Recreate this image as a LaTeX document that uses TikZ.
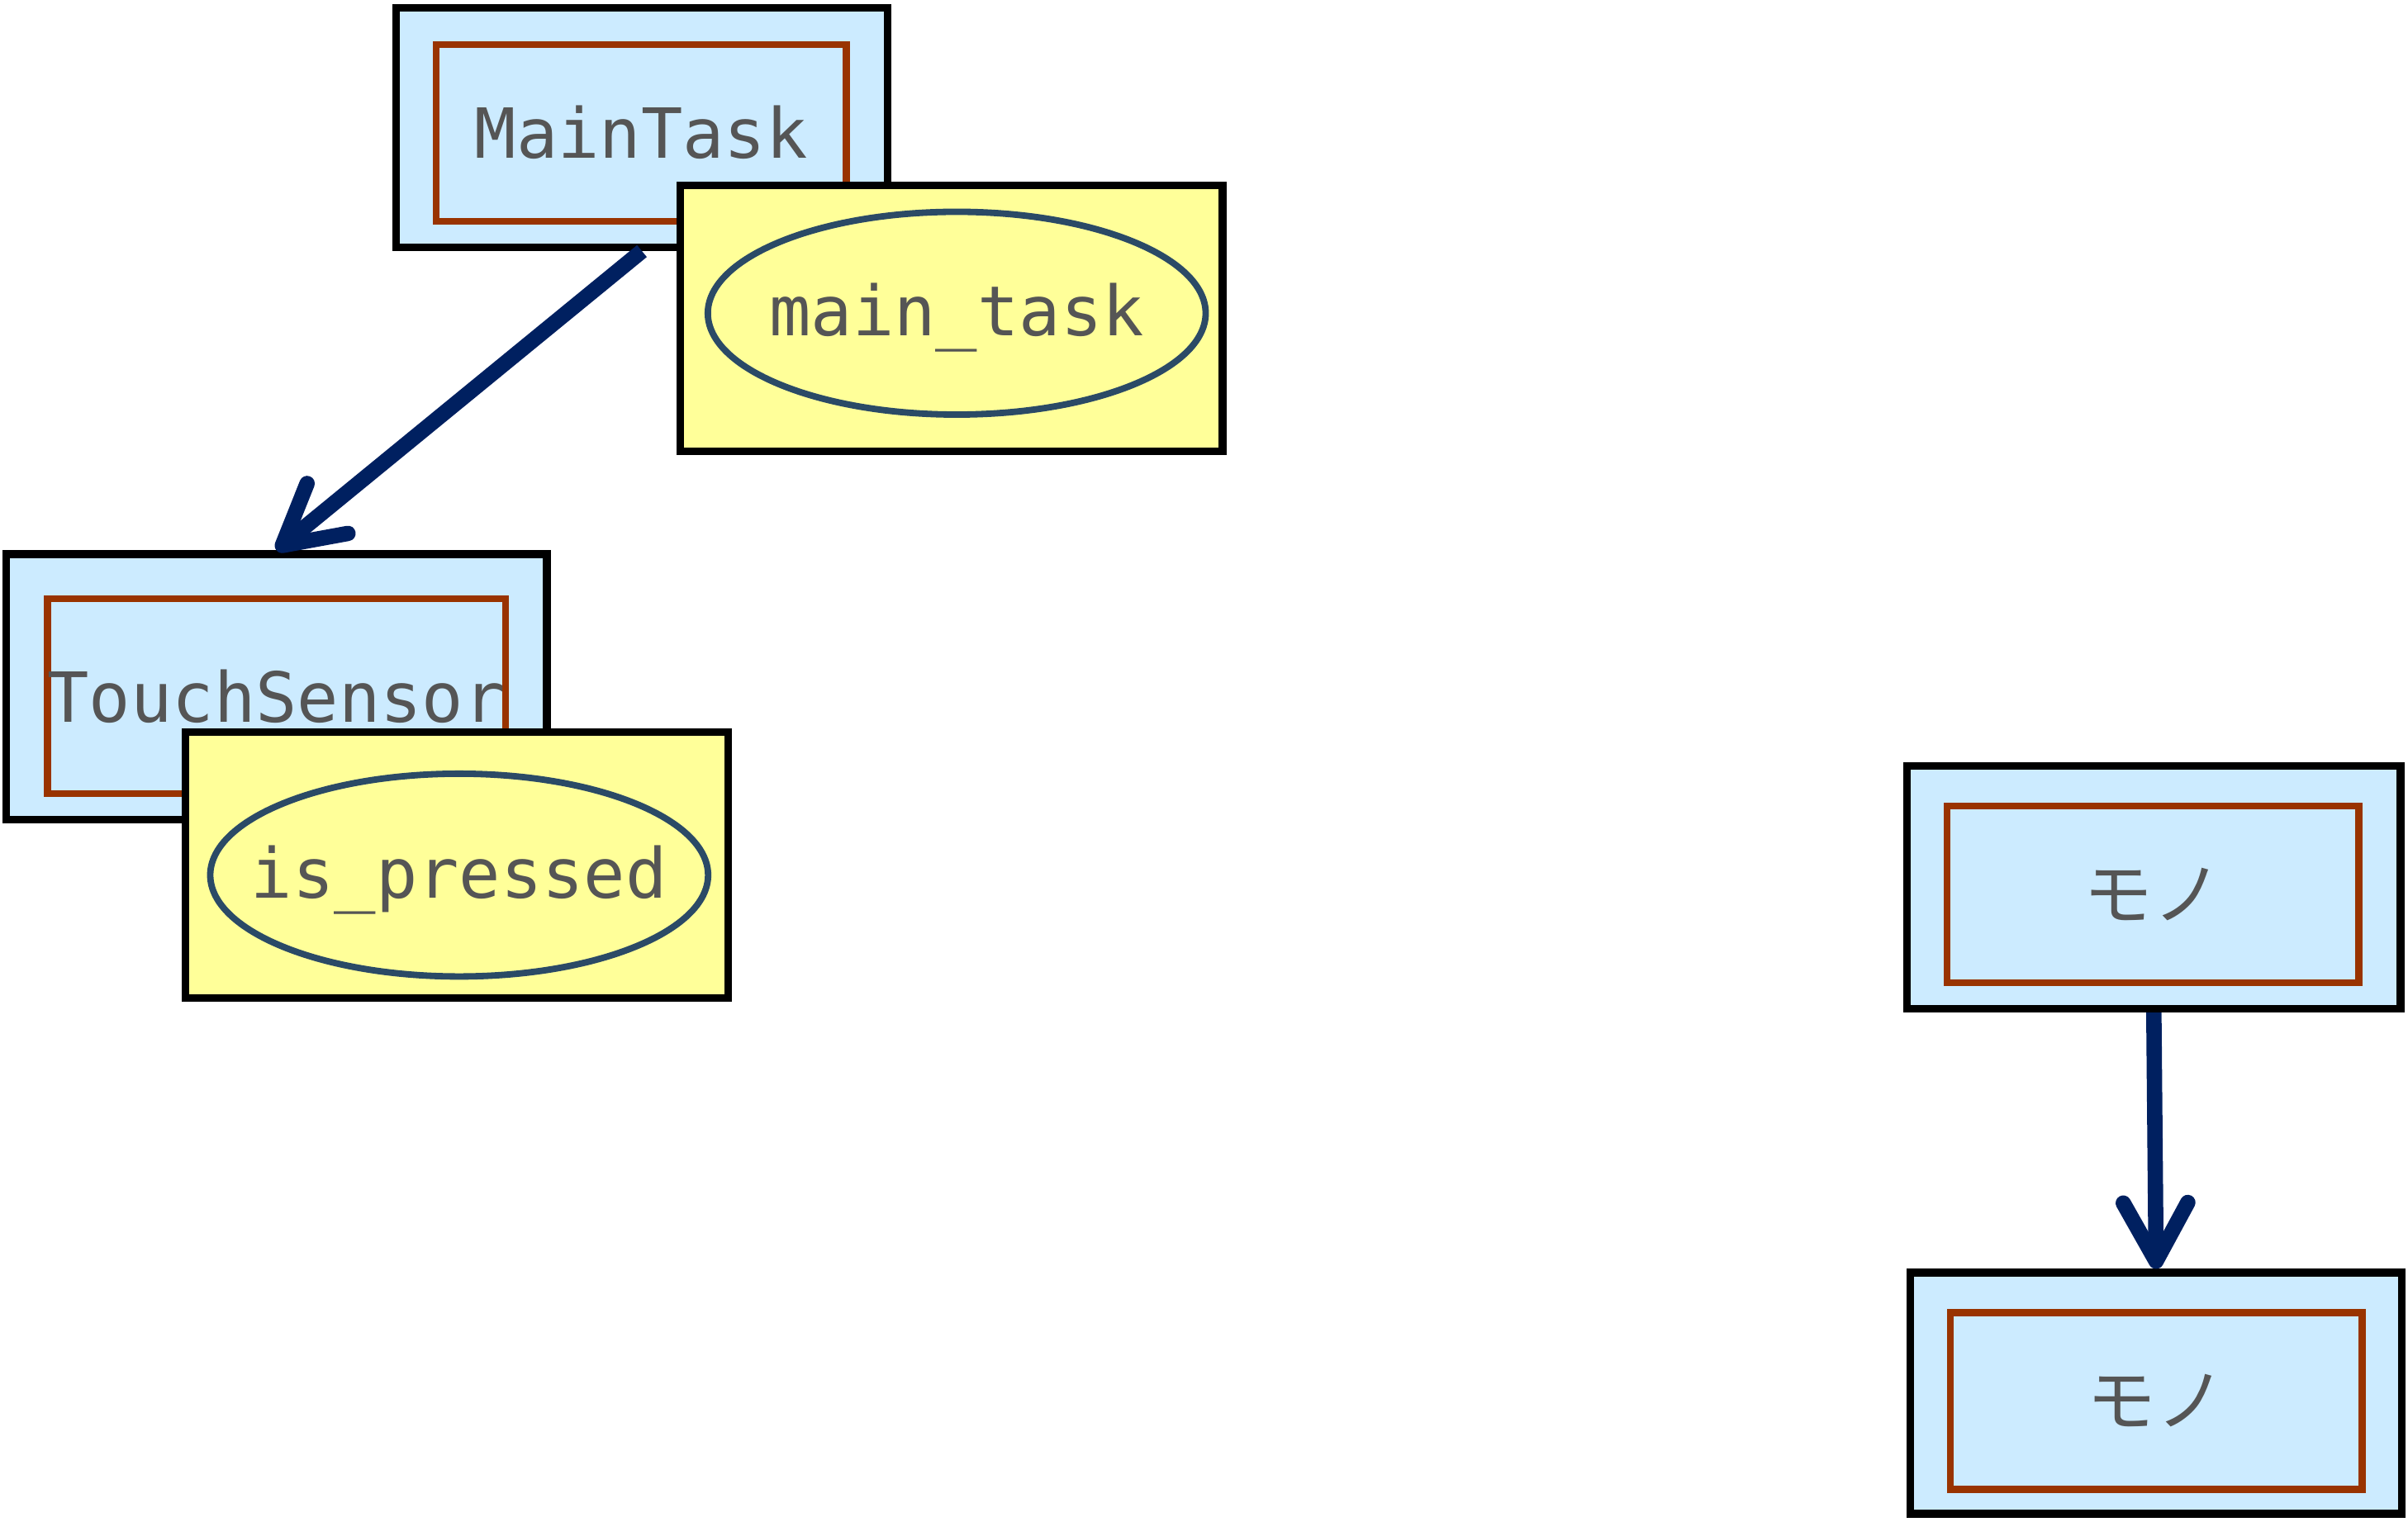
\documentclass[tikz,border=0pt]{standalone}
\usepackage{fontspec}
\setmonofont{DejaVu Sans Mono}
\newfontfamily\cjk{Noto Sans CJK JP}
\usetikzlibrary{shapes.geometric,arrows.meta}
\definecolor{boxblue}{HTML}{CCEBFF}
\definecolor{boxyellow}{HTML}{FFFF99}
\definecolor{innerbrown}{HTML}{993300}
\definecolor{ellborder}{HTML}{2B4A66}
\definecolor{arrownavy}{HTML}{002060}
\definecolor{textgrey}{HTML}{555555}
\tikzset{
  outerbox/.style={draw=black, fill=boxblue, line width=0.05cm, rectangle, inner sep=0pt},
  innerbox/.style={draw=innerbrown, fill=boxblue, line width=0.045cm, rectangle, inner sep=0pt,
    text=textgrey, font=\fontsize{12.8}{15}\selectfont\ttfamily},
  yellowbox/.style={draw=black, fill=boxyellow, line width=0.05cm, rectangle, inner sep=0pt,
    minimum width=3.53cm, minimum height=1.73cm},
  ellnode/.style={draw=ellborder, fill=boxyellow, line width=0.042cm, ellipse, inner sep=0pt,
    minimum width=3.24cm, minimum height=1.32cm},
  elltext/.style={inner sep=0pt, text=textgrey, font=\fontsize{12.8}{15}\selectfont\ttfamily},
  link/.style={draw=arrownavy, line width=0.1cm,
    -{Straight Barb[length=3.8mm,width=4.2mm,round]}},
  cjktext/.style={font=\fontsize{12.8}{15}\selectfont\cjk}
}
\begin{document}
\begin{tikzpicture}[x=0.01cm,y=-0.01cm]
\useasboundingbox (0,0) rectangle (1568,991);
% MainTask group
\node[outerbox, minimum width=3.2cm, minimum height=1.56cm] (mt) at (418,83) {};
\node[innerbox, minimum width=2.67cm, minimum height=1.15cm] (mtin) at (417.5,86.5) {MainTask};
\node[yellowbox] (mty) at (619.5,207.5) {};
\node[ellnode] (mte) at (623,204) {};
\node[elltext] (mtt) at (623,207) {main\_task};
% TouchSensor group
\node[outerbox, minimum width=3.52cm, minimum height=1.73cm] (ts) at (180,447.5) {};
\node[innerbox, minimum width=2.94cm, minimum height=1.27cm] (tsin) at (180,453.5) {TouchSensor};
\node[yellowbox] (tsy) at (297.5,563.5) {};
\node[ellnode] (tse) at (299,570) {};
\node[elltext] (tst) at (299,573) {is\_pressed};
% Arrow
\draw[link] (mt.south) -- (ts.north);
% Right group
\node[outerbox, minimum width=3.21cm, minimum height=1.58cm] (m1) at (1402.5,578) {};
\node[innerbox, cjktext, minimum width=2.68cm, minimum height=1.15cm] (m1in) at (1402,582.5) {モノ};
\node[outerbox, minimum width=3.2cm, minimum height=1.57cm] (m2) at (1404,907.5) {};
\node[innerbox, cjktext, minimum width=2.68cm, minimum height=1.15cm] (m2in) at (1404,912.5) {モノ};
\draw[link] (m1.south) -- (m2.north);
\end{tikzpicture}
\end{document}
